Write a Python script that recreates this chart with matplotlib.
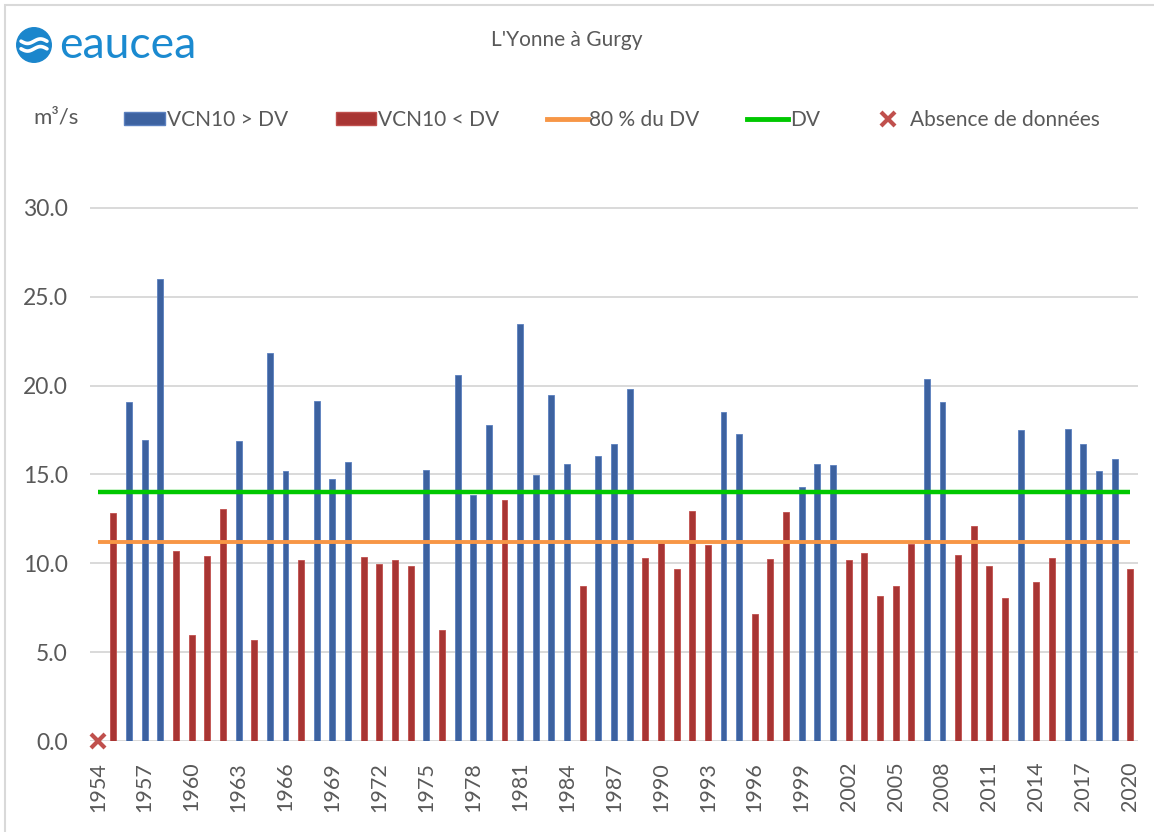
import numpy as np
import matplotlib
matplotlib.use("Agg")
import matplotlib.pyplot as plt
from matplotlib.patches import Patch, Rectangle, Circle
from matplotlib.lines import Line2D

# ---- données (VCN10 annuel, m3/s) ----
years = list(range(1954, 2021))
nan = np.nan
# série "VCN10 > DV" (bleu)
vcn10_sup = [
    nan, nan, 19.10, 16.95, 26.00, nan, nan, nan, nan, 16.90,   # 1954-1963
    nan, 21.85, 15.20, nan, 19.15, 14.74, 15.72, nan, nan, nan,  # 1964-1973
    nan, 15.25, nan, 20.60, 13.86, 17.80, nan, 23.47, 14.97, 19.47,  # 1974-1983
    15.59, nan, 16.04, 16.71, 19.81, nan, nan, nan, nan, nan,   # 1984-1993
    18.51, 17.28, nan, nan, nan, 14.29, 15.59, 15.53, nan, nan,  # 1994-2003
    nan, nan, nan, 20.37, 19.08, nan, nan, nan, nan, 17.50,     # 2004-2013
    nan, nan, 17.56, 16.71, 15.21, 15.87, nan,                  # 2014-2020
]
# série "VCN10 < DV" (rouge)
vcn10_inf = [
    nan, 12.85, nan, nan, nan, 10.70, 5.98, 10.43, 13.07, nan,   # 1954-1963
    5.66, nan, nan, 10.19, nan, nan, nan, 10.37, 9.98, 10.19,    # 1964-1973
    9.87, nan, 6.25, nan, nan, nan, 13.56, nan, nan, nan,        # 1974-1983
    nan, 8.72, nan, nan, nan, 10.30, 11.14, 9.70, 12.96, 11.03,  # 1984-1993
    nan, nan, 7.16, 10.26, 12.90, nan, nan, nan, 10.19, 10.60,   # 1994-2003
    8.16, 8.72, 11.09, nan, nan, 10.47, 12.10, 9.85, 8.05, nan,  # 2004-2013
    8.95, 10.30, nan, nan, nan, nan, 9.68,                       # 2014-2020
]
annees_sans_donnees = [1954]
dv = 14.0
dv80 = 11.2

W, H = 1154, 832
txt_col = "#595959"
plt.rcParams["font.family"] = ["Lato", "DejaVu Sans"]

fig = plt.figure(figsize=(W / 100, H / 100), dpi=100)

# cadre du graphique
fig.patches.append(Rectangle((5 / W, -0.05), 1.2, 1 - 5 / H + 0.05, transform=fig.transFigure,
                             fill=False, edgecolor="#d9d9d9", linewidth=1.5))

ymax = 30.2
ax = fig.add_axes([90 / W, (H - 741) / H, 1048 / W, 533 * ymax / 30 / H])

x = np.array(years)
ax.bar(x, vcn10_sup, width=0.38, color="#3d62a0", edgecolor="#5b80bf", linewidth=0.6, zorder=2)
ax.bar(x, vcn10_inf, width=0.38, color="#a83533", edgecolor="#c0504d", linewidth=0.6, zorder=2)
ax.hlines(dv80, years[0], years[-1], color="#f79646", linewidth=2.8, zorder=3)
ax.hlines(dv, years[0], years[-1], color="#00c800", linewidth=3.2, zorder=3)
ax.plot(annees_sans_donnees, [0] * len(annees_sans_donnees), linestyle="none", marker="x",
        markersize=10, markeredgewidth=3, color="#c0504d", zorder=4, clip_on=False)

ax.set_xlim(years[0] - 0.5, years[-1] + 0.5)
ax.set_ylim(0, ymax)
ax.set_yticks(np.arange(0, 31, 5))
ax.set_yticklabels([f"{v:.1f}" for v in np.arange(0, 31, 5)])
ax.set_xticks(years[::3])
ax.set_xticklabels([str(y) for y in years[::3]], rotation=90)
ax.tick_params(axis="y", length=0, pad=16, labelsize=16.5, labelcolor=txt_col)
ax.tick_params(axis="x", length=0, pad=15, labelsize=15.5, labelcolor=txt_col)
ax.grid(axis="y", color="#d9d9d9", linewidth=1.4, zorder=0)
ax.set_axisbelow(True)
for s in ax.spines.values():
    s.set_visible(False)

# titre
fig.text(567 / W, 1 - 40 / H, "L'Yonne à Gurgy", ha="center", va="center", fontsize=15, color=txt_col)

# légende
fig.text(33 / W, 1 - 118 / H, "m³/s", ha="left", va="center", fontsize=16, color=txt_col)
handles = [
    Patch(facecolor="#3d62a0", edgecolor="#5b80bf"),
    Patch(facecolor="#a83533", edgecolor="#c0504d"),
    Line2D([], [], color="#f79646", linewidth=3.5),
    Line2D([], [], color="#00c800", linewidth=3.5),
    Line2D([], [], linestyle="none", marker="x", markersize=10, markeredgewidth=3, color="#c0504d"),
]
labels = ["VCN10 > DV", "VCN10 < DV", "80 % du DV", "DV", "Absence de données"]
leg = fig.legend(handles, labels, ncol=5, loc="center left", bbox_to_anchor=(116 / W, 1 - 120 / H),
                 frameon=False, fontsize=15, handlelength=1.95, handleheight=0.55,
                 handletextpad=0.08, columnspacing=2.3, borderaxespad=0)
for t in leg.get_texts():
    t.set_color(txt_col)

# logo eaucea
lax = fig.add_axes([15 / W, 1 - 64 / H, 38 / W, 38 / H])
lax.set_xlim(-1.1, 1.1)
lax.set_ylim(-1.1, 1.1)
lax.set_aspect("equal")
lax.axis("off")
lax.add_patch(Circle((0, 0), 1.0, color="#1b86cc"))
t = np.linspace(-0.75, 0.75, 50)
lax.plot(t, 0.22 + 0.13 * np.sin(t * 4.2), color="white", linewidth=2.6, solid_capstyle="round")
lax.plot(t, -0.22 + 0.13 * np.sin(t * 4.2), color="white", linewidth=2.6, solid_capstyle="round")
fig.text(59 / W, 1 - 46 / H, "eaucea", ha="left", va="center", fontsize=32, color="#1b8ad0")

fig.savefig("out.png", dpi=100)
